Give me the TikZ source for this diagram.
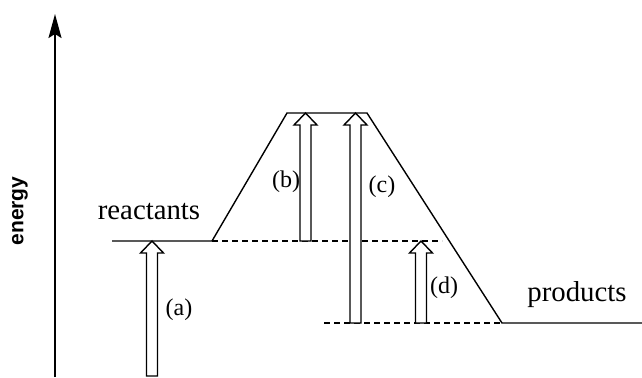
\documentclass[tikz,border=0pt]{standalone}
\usepackage{fontspec}
\setmainfont{Liberation Serif}
\setsansfont{Liberation Sans}
\usetikzlibrary{arrows.meta, positioning}

\begin{document}
\begin{tikzpicture}[
  x=0.5pt, y=-0.5pt,
  >={Stealth[length=12pt, width=6.5pt, inset=2pt]},
  nivel/.style={line width=0.7pt, black},
  guia/.style={line width=0.8pt, dash pattern=on 3pt off 2pt},
  bloque/.style={draw, line width=0.7pt, fill=white, to path={
    ([xshift=-2.75pt]\tikztostart) -- ([xshift=-2.75pt, yshift=-6pt]\tikztotarget)
    -- ([xshift=-5.75pt, yshift=-6pt]\tikztotarget) -- (\tikztotarget)
    -- ([xshift=5.75pt, yshift=-6pt]\tikztotarget) -- ([xshift=2.75pt, yshift=-6pt]\tikztotarget)
    -- ([xshift=2.75pt]\tikztostart) -- cycle}},
  rotulo/.style={font=\fontsize{12}{14}\selectfont, inner sep=0pt},
  estado/.style={font=\fontsize{14.4}{17}\selectfont, inner sep=0pt},
]
\useasboundingbox (0,0) rectangle (642,377);

% --- Eje de energia ---
\coordinate (ejeabajo) at (55,377);
\coordinate (ejearriba) at (55,14);
\draw[->, line width=0.9pt] (ejeabajo) -- (ejearriba);
\node[rotate=90, font=\sffamily\bfseries\fontsize{10.5}{12}\selectfont] (energia) at (20,211) {energy};

% --- Niveles ---
\coordinate (r0) at (112,241);
\coordinate (r1) at (212,241);
\coordinate (t0) at (287,113);
\coordinate (t1) at (367,113);
\coordinate (p0) at (502,323);
\coordinate (p1) at (642,323);
\coordinate (g1) at (442,241);
\coordinate (g2) at (324,323);

\draw[guia] (r1) -- (g1);
\draw[guia] (g2) -- (p0);
\draw[nivel] (r0) -- (r1) -- (t0) -- (t1) -- (p0) -- (p1);

% --- Flechas huecas ---
\coordinate (abase) at (152,376);
\coordinate (apunta) at (152,241);
\coordinate (bbase) at (305.5,241);
\coordinate (bpunta) at (305.5,113);
\coordinate (cbase) at (355.5,323);
\coordinate (cpunta) at (355.5,113);
\coordinate (dbase) at (421,323);
\coordinate (dpunta) at (421,241);

\path[bloque] (abase) to (apunta);
\path[bloque] (bbase) to (bpunta);
\path[bloque] (cbase) to (cpunta);
\path[bloque] (dbase) to (dpunta);

% --- Textos ---
\node[estado] (reac) at (149,212) {reactants};
\node[estado] (prod) at (577,295) {products};
\node[rotulo] (la) at (179,310) {(a)};
\node[rotulo] (lb) at (286,182) {(b)};
\node[rotulo] (lc) at (382,187) {(c)};
\node[rotulo] (ld) at (444,288) {(d)};

\end{tikzpicture}
\end{document}
